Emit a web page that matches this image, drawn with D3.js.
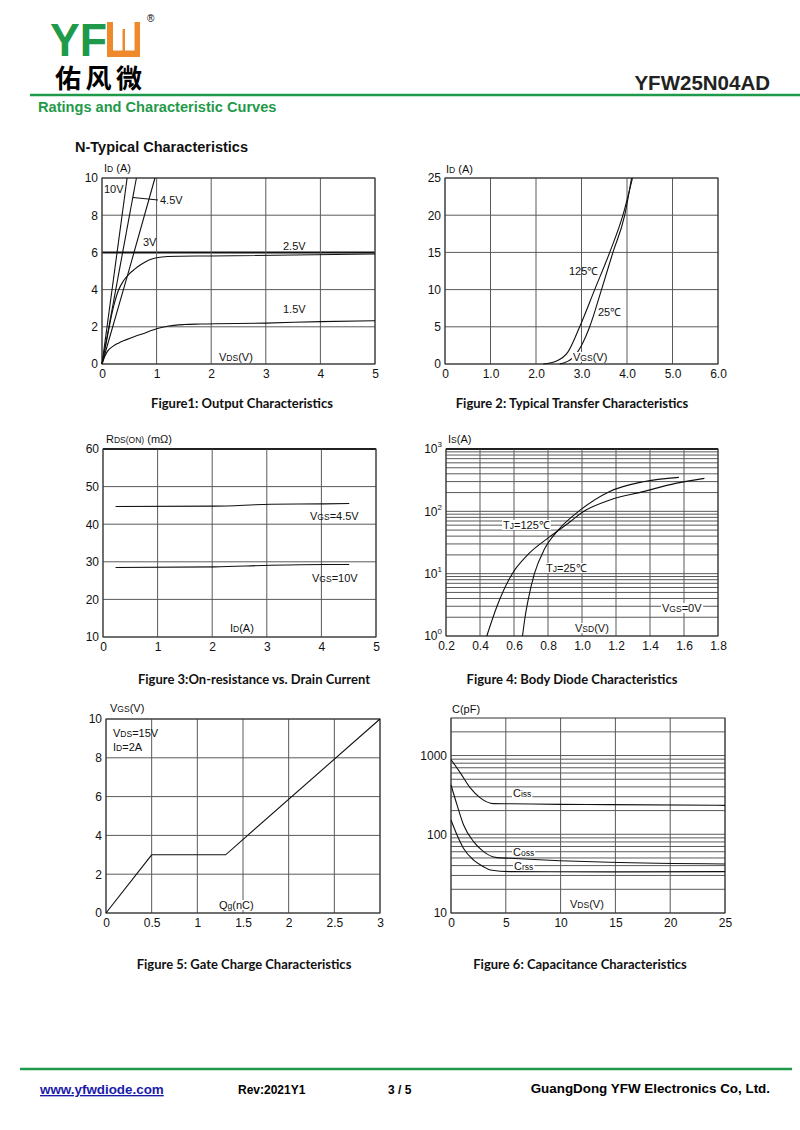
<!DOCTYPE html>
<html>
<head>
<meta charset="utf-8">
<script src="https://cdn.jsdelivr.net/npm/d3@7"></script>
<style>
  body { margin: 0; background: #fff; }
  svg text { font-family: "Liberation Sans", Arial, sans-serif; }
</style>
</head>
<body>
<div id="page"></div>
<script>
// ---- values ----

// Figure 1: output characteristics, VDS (V) vs ID (A)
const outTicksX = [0, 1, 2, 3, 4, 5];
const outTicksY = [0, 2, 4, 6, 8, 10];
const outVds10 = [0, 0.46];
const outId10 = [0, 10];
const outVds45 = [0, 0.63];
const outId45 = [0, 10];
const outVds3 = [0, 0.5, 0.97];
const outId3 = [0, 5.1, 10];
const outVds25 = [0, 0.1, 0.2, 0.3, 0.4, 0.5, 0.6, 0.7, 0.8, 0.9, 1.0, 1.2, 2, 5];
const outId25 = [0, 1.5, 2.95, 3.95, 4.5, 4.85, 5.1, 5.32, 5.5, 5.63, 5.71, 5.78, 5.81, 5.91];
const outVds15 = [0, 0.05, 0.1, 0.2, 0.3, 0.45, 0.6, 0.75, 0.9, 1.0, 1.2, 1.5, 1.8, 3, 4, 5];
const outId15 = [0, 0.4, 0.68, 0.95, 1.12, 1.31, 1.48, 1.63, 1.8, 1.9, 2.03, 2.12, 2.15, 2.2, 2.28, 2.33];

// Figure 2: transfer characteristics, VGS (V) vs ID (A)
const transTicksX = [0, 1, 2, 3, 4, 5, 6];
const transTicksY = [0, 5, 10, 15, 20, 25];
const transVgs125 = [2.16, 2.45, 2.7, 2.96, 3.29, 3.62, 3.91, 4.12];
const transId125 = [0, 0.4, 1.6, 5, 10, 15, 20, 25];
const transVgs25 = [2.52, 2.8, 3.0, 3.18, 3.44, 3.69, 3.95, 4.1];
const transId25 = [0, 0.8, 2.5, 5, 10, 15, 20, 25];

// Figure 3: on-resistance vs drain current, ID (A) vs RDS(on) (mOhm)
const rdsTicksX = [0, 1, 2, 3, 4, 5];
const rdsTicksY = [10, 20, 30, 40, 50, 60];
const rdsId = [0.23, 2.04, 3.07, 4.05, 4.51];
const rdsVgs45 = [44.7, 44.8, 45.3, 45.4, 45.5];
const rdsVgs10 = [28.5, 28.65, 29.1, 29.3, 29.3];

// Figure 4: body diode, VSD (V) vs IS (A), log scale
const diodeTicksX = [0.2, 0.4, 0.6, 0.8, 1.0, 1.2, 1.4, 1.6, 1.8];
const diodeTicksY = [1, 10, 100, 1000];
const diodeVsd125 = [0.44, 0.5, 0.59, 0.68, 0.81, 0.93, 1.0, 1.16, 1.36, 1.55, 1.72];
const diodeIs125 = [1, 3, 10, 20, 39, 68, 96, 151, 207, 281, 338];
const diodeVsd25 = [0.65, 0.665, 0.685, 0.72, 0.78, 0.86, 0.98, 1.16, 1.36, 1.57];
const diodeIs25 = [1, 2, 4, 10, 25, 50, 100, 207, 299, 351];

// Figure 5: gate charge, Qg (nC) vs VGS (V)
const gateTicksX = [0, 0.5, 1, 1.5, 2, 2.5, 3];
const gateTicksY = [0, 2, 4, 6, 8, 10];
const gateQg = [0, 0.5, 1.31, 3];
const gateVgs = [0, 3, 3, 10];

// Figure 6: capacitance, VDS (V) vs C (pF), log scale
const capTicksX = [0, 5, 10, 15, 20, 25];
const capTicksY = [10, 100, 1000];
const capVdsIss = [0, 0.85, 1.76, 2.67, 3.88, 5.4, 9.95, 14.5, 25];
const capIss = [890, 603, 388, 290, 245, 244, 240, 238, 233];
const capVdsOss = [0, 0.55, 1.15, 2.06, 2.97, 4.19, 5.4, 9.95, 14.5, 25];
const capOss = [423, 236, 131, 80.7, 60.2, 50.5, 49.6, 46.2, 44.1, 42];
const capVdsRss = [0, 0.55, 1.15, 2.06, 2.97, 3.58, 5.4, 14.5, 25];
const capRss = [152, 98, 66, 47, 38.8, 35.2, 33.5, 33.3, 33.5];

// ---- page ----
const green = "#1f9a4a";
const gridColor = "#5a5a5a";
const svg = d3.select("#page").append("svg").attr("width", 800).attr("height", 1130);

// logo
svg.append("text").attr("x", 50).attr("y", 56).attr("font-size", 46).attr("font-weight", "bold")
  .attr("textLength", 57).attr("lengthAdjust", "spacingAndGlyphs").attr("fill", green).text("YF");
svg.append("rect").attr("x", 107).attr("y", 22).attr("width", 33).attr("height", 35).attr("fill", "#ee8a2c");
svg.append("rect").attr("x", 113).attr("y", 22).attr("width", 21.5).attr("height", 28.5).attr("fill", "#fff");
svg.append("rect").attr("x", 122.5).attr("y", 29).attr("width", 2.5).attr("height", 22).attr("fill", "#ee8a2c");
svg.append("text").attr("x", 147).attr("y", 22).attr("font-size", 10).text("®");
svg.append("text").attr("x", 55).attr("y", 88).attr("font-size", 26).attr("font-weight", "bold")
  .style("font-family", "'Noto Sans CJK SC', sans-serif").attr("textLength", 87).text("佑风微");

svg.append("line").attr("x1", 30).attr("x2", 800).attr("y1", 95).attr("y2", 95)
  .attr("stroke", green).attr("stroke-width", 2.5);
svg.append("text").attr("x", 770).attr("y", 90).attr("text-anchor", "end").attr("font-size", 20.5)
  .attr("font-weight", "bold").attr("fill", "#222").text("YFW25N04AD");
svg.append("text").attr("x", 38).attr("y", 112).attr("font-size", 14.6).attr("font-weight", "bold")
  .attr("fill", green).text("Ratings and Characteristic Curves");
svg.append("text").attr("x", 75).attr("y", 152).attr("font-size", 14.5).attr("font-weight", "bold")
  .attr("fill", "#111").text("N-Typical Characteristics");

// footer
svg.append("line").attr("x1", 20).attr("x2", 792).attr("y1", 1069).attr("y2", 1069)
  .attr("stroke", green).attr("stroke-width", 2.5);
svg.append("text").attr("x", 40).attr("y", 1094).attr("font-size", 13.4).attr("font-weight", "bold")
  .attr("fill", "#1a1aa8").attr("text-decoration", "underline").text("www.yfwdiode.com");
svg.append("text").attr("x", 238).attr("y", 1094).attr("font-size", 12).attr("font-weight", "bold").text("Rev:2021Y1");
svg.append("text").attr("x", 388).attr("y", 1094).attr("font-size", 12).attr("font-weight", "bold").text("3 / 5");
svg.append("text").attr("x", 770).attr("y", 1093).attr("text-anchor", "end").attr("font-size", 13.4)
  .attr("font-weight", "bold").text("GuangDong YFW Electronics Co, Ltd.");

// ---- chart helpers ----
function logGrid(lo, hi) {
  const out = [];
  for (let d = lo; d < hi; d *= 10) for (let k = 1; k < 10; k++) if (k * d <= hi) out.push(k * d);
  out.push(hi);
  return out;
}

function drawPanel(p) {
  const [l, t, r, b] = p.box;
  p.x.range([l, r]);
  p.y.range([b, t]);
  const g = svg.append("g");
  const bold = p.bold || [];

  g.selectAll(null).data(p.hGrid).enter().append("line")
    .attr("x1", l).attr("x2", r)
    .attr("y1", d => p.y(d)).attr("y2", d => p.y(d))
    .attr("stroke", d => bold.includes(d) ? "#111" : gridColor)
    .attr("stroke-width", d => bold.includes(d) ? 2 : 1);

  g.selectAll(null).data(p.vGrid).enter().append("line")
    .attr("x1", d => p.x(d)).attr("x2", d => p.x(d))
    .attr("y1", t).attr("y2", b)
    .attr("stroke", gridColor).attr("stroke-width", 1);

  g.append("rect").attr("x", l).attr("y", t).attr("width", r - l).attr("height", b - t)
    .attr("fill", "none").attr("stroke", "#333").attr("stroke-width", 1);

  const ax = g.append("g").attr("transform", `translate(0,${b})`)
    .call(d3.axisBottom(p.x).tickValues(p.xTicks).tickSize(0).tickPadding(5).tickFormat(p.xFmt));
  ax.select(".domain").remove();
  ax.attr("font-size", 12).attr("font-family", null).selectAll("text").attr("fill", "#111");

  const ay = g.append("g").attr("transform", `translate(${l},0)`)
    .call(d3.axisLeft(p.y).tickValues(p.yTicks).tickSize(0).tickPadding(4).tickFormat(p.yFmt));
  ay.select(".domain").remove();
  ay.attr("font-size", 12).attr("font-family", null).selectAll("text").attr("fill", "#111");
  if (p.powers) {
    ay.selectAll("text").each(function (d) {
      const s = d3.select(this).text("10");
      s.append("tspan").attr("dy", -6).attr("font-size", 8).text(Math.round(Math.log10(d)));
    });
  }

  const line = d3.line().x(d => p.x(d[0])).y(d => p.y(d[1])).curve(p.curve || d3.curveMonotoneX);
  p.series.forEach(s => {
    g.append("path").datum(d3.zip(s[0], s[1])).attr("d", line)
      .attr("fill", "none").attr("stroke", "#111").attr("stroke-width", 1.1);
  });
}

function label(x, y, parts, opts = {}) {
  const t = svg.append("text").attr("x", x).attr("y", y)
    .attr("font-size", opts.size || 12).attr("fill", "#111")
    .attr("text-anchor", opts.anchor || "start");
  parts.forEach(pt => {
    const ts = t.append("tspan").text(pt[0]);
    if (pt[1]) ts.attr("font-size", 8.5);
  });
  if (opts.bg) {
    const bb = t.node().getBBox();
    svg.insert("rect", () => t.node())
      .attr("x", bb.x - 1).attr("y", bb.y + 1).attr("width", bb.width + 2).attr("height", bb.height - 2)
      .attr("fill", "#fff");
  }
  return t;
}

function caption(cx, y, text) {
  svg.append("text").attr("x", cx).attr("y", y).attr("text-anchor", "middle")
    .attr("font-size", 13).attr("font-weight", "bold").style("font-family", "Lato, sans-serif")
    .attr("fill", "#111").text(text);
}

const intFmt = d3.format("d");
const plainFmt = d => String(d);
const oneDec = d3.format(".1f");

// Figure 1
drawPanel({
  box: [102, 178, 375, 364],
  x: d3.scaleLinear().domain([0, 5]), y: d3.scaleLinear().domain([0, 10]),
  xTicks: outTicksX, yTicks: outTicksY, vGrid: outTicksX, hGrid: outTicksY,
  xFmt: intFmt, yFmt: intFmt, bold: [6],
  series: [[outVds10, outId10], [outVds45, outId45], [outVds3, outId3], [outVds25, outId25], [outVds15, outId15]]
});
label(104, 172, [["I"], ["D", 1], [" (A)"]], { size: 11 });
label(104, 193, [["10V"]], { size: 11 });
svg.append("line").attr("x1", 133).attr("y1", 197.5).attr("x2", 158).attr("y2", 200).attr("stroke", "#111");
label(160, 204, [["4.5V"]], { size: 11 });
label(143, 246, [["3V"]], { size: 11 });
label(283, 250, [["2.5V"]], { size: 11 });
label(283, 313, [["1.5V"]], { size: 11 });
label(219, 361, [["V"], ["DS", 1], ["(V)"]], { size: 11 });
caption(242, 408, "Figure1: Output Characteristics");

// Figure 2
drawPanel({
  box: [445, 178, 718, 364],
  x: d3.scaleLinear().domain([0, 6]), y: d3.scaleLinear().domain([0, 25]),
  xTicks: transTicksX, yTicks: transTicksY, vGrid: transTicksX, hGrid: transTicksY,
  xFmt: d => d === 0 ? "0" : oneDec(d), yFmt: intFmt,
  series: [[transVgs125, transId125], [transVgs25, transId25]]
});
label(446, 173, [["I"], ["D", 1], [" (A)"]], { size: 11 });
label(569, 275, [["125℃"]], { size: 11 });
label(598, 316, [["25℃"]], { size: 11 });
label(573, 361, [["V"], ["GS", 1], ["(V)"]], { size: 11, bg: true });
caption(572, 408, "Figure 2: Typical Transfer Characteristics");

// Figure 3
drawPanel({
  box: [103, 449, 376, 637],
  x: d3.scaleLinear().domain([0, 5]), y: d3.scaleLinear().domain([10, 60]),
  xTicks: rdsTicksX, yTicks: rdsTicksY, vGrid: rdsTicksX, hGrid: rdsTicksY,
  xFmt: intFmt, yFmt: intFmt, bold: [60],
  series: [[rdsId, rdsVgs45], [rdsId, rdsVgs10]]
});
label(106, 443, [["R"], ["DS(ON)", 1], [" (mΩ)"]], { size: 11 });
label(310, 520, [["V"], ["GS", 1], ["=4.5V"]], { size: 11 });
label(312, 582, [["V"], ["GS", 1], ["=10V"]], { size: 11 });
label(230, 632, [["I"], ["D", 1], ["(A)"]], { size: 11 });
caption(254, 684, "Figure 3:On-resistance vs. Drain Current");

// Figure 4
drawPanel({
  box: [446, 449, 718, 636],
  x: d3.scaleLinear().domain([0.2, 1.8]), y: d3.scaleLog().domain([1, 1000]),
  xTicks: diodeTicksX, yTicks: diodeTicksY, vGrid: diodeTicksX, hGrid: logGrid(1, 1000),
  xFmt: oneDec, yFmt: () => "", powers: true, bold: [1000],
  series: [[diodeVsd125, diodeIs125], [diodeVsd25, diodeIs25]]
});
label(448, 443, [["I"], ["S", 1], ["(A)"]], { size: 11 });
label(503, 529, [["T"], ["J", 1], ["=125℃"]], { size: 11, bg: true });
label(546, 572, [["T"], ["J", 1], ["=25℃"]], { size: 11, bg: true });
label(662, 612, [["V"], ["GS", 1], ["=0V"]], { size: 11, bg: true });
label(575, 632, [["V"], ["SD", 1], ["(V)"]], { size: 11, bg: true });
caption(572, 684, "Figure 4: Body Diode Characteristics");

// Figure 5
drawPanel({
  box: [106, 719, 380, 913],
  x: d3.scaleLinear().domain([0, 3]), y: d3.scaleLinear().domain([0, 10]),
  xTicks: gateTicksX, yTicks: gateTicksY, vGrid: gateTicksX, hGrid: gateTicksY,
  xFmt: plainFmt, yFmt: intFmt, curve: d3.curveLinear,
  series: [[gateQg, gateVgs]]
});
label(110, 712, [["V"], ["GS", 1], ["(V)"]], { size: 11 });
label(113, 737, [["V"], ["DS", 1], ["=15V"]], { size: 11 });
label(113, 751, [["I"], ["D", 1], ["=2A"]], { size: 11 });
label(219, 909, [["Q"], ["g", 1], ["(nC)"]], { size: 11, bg: true });
caption(244, 969, "Figure 5: Gate Charge Characteristics");

// Figure 6
drawPanel({
  box: [451, 718, 725, 913],
  x: d3.scaleLinear().domain([0, 25]), y: d3.scaleLog().domain([10, 3000]),
  xTicks: capTicksX, yTicks: capTicksY, vGrid: capTicksX, hGrid: logGrid(10, 1000).concat([2000]),
  xFmt: intFmt, yFmt: intFmt,
  series: [[capVdsIss, capIss], [capVdsOss, capOss], [capVdsRss, capRss]]
});
label(452, 713, [["C(pF)"]], { size: 11 });
label(513, 797, [["C"], ["iss", 1]], { size: 11, bg: true });
label(513, 856, [["C"], ["oss", 1]], { size: 11, bg: true });
label(514, 870, [["C"], ["rss", 1]], { size: 11, bg: true });
label(570, 908, [["V"], ["DS", 1], ["(V)"]], { size: 11, bg: true });
caption(580, 969, "Figure 6: Capacitance Characteristics");
</script>
</body>
</html>
